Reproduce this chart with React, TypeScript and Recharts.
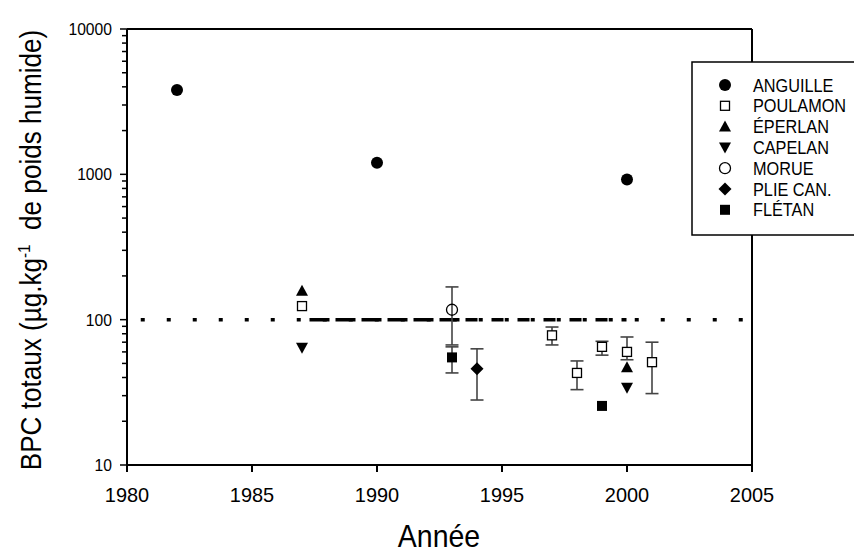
import React from "react";
import {
  ScatterChart,
  Scatter,
  XAxis,
  YAxis,
  ErrorBar,
  ReferenceLine,
} from "recharts";

// values (log scale, µg/kg)
const anguilleYears = [1982, 1990, 2000];
const anguilleValues = [3800, 1200, 920];

const poulamonYears = [1987, 1997, 1998, 1999, 2000, 2001];
const poulamonValues = [124, 78, 43, 65, 60, 51];
const poulamonLow = [null, 67, 33, 57, 53, 31];
const poulamonHigh = [null, 89, 52, 71, 76, 70];

const eperlanYears = [1987, 2000];
const eperlanValues = [158, 47];

const capelanYears = [1987, 2000];
const capelanValues = [64, 34];

const morueYears = [1993];
const morueValues = [117];
const morueLow = [67];
const morueHigh = [168];

const plieYears = [1994];
const plieValues = [46];
const plieLow = [28];
const plieHigh = [63];

const fletanYears = [1993, 1999];
const fletanValues = [55, 25.5];
const fletanLow = [43, null];
const fletanHigh = [65, null];

const xTicks = [1980, 1985, 1990, 1995, 2000, 2005];
const majorYTicks = [10, 100, 1000, 10000];
const yTicks = [
  10, 20, 30, 40, 50, 60, 70, 80, 90,
  100, 200, 300, 400, 500, 600, 700, 800, 900,
  1000, 2000, 3000, 4000, 5000, 6000, 7000, 8000, 9000,
  10000,
];
const limitValue = 100;

const FONT = "Arial, 'Liberation Sans', sans-serif";

// dash pattern of the overlaid guideline: long dashes, then dash-dot, then dot pairs
const guideDash = [
  ...Array(6).fill("20 6"),
  ...Array(6).fill("12 14"),
  "5 21",
].join(" ");

type Kind = "dot" | "openSquare" | "triUp" | "triDown" | "openCircle" | "diamond" | "square";

function toPoints(
  years: number[],
  values: number[],
  low?: (number | null)[],
  high?: (number | null)[]
) {
  return years.map((x, i) => {
    const y = values[i];
    const lo = low ? low[i] : null;
    const hi = high ? high[i] : null;
    return {
      x,
      y,
      err: lo != null && hi != null ? [y - lo, hi - y] : undefined,
    };
  });
}

const series: { name: string; kind: Kind; data: any[] }[] = [
  { name: "ANGUILLE", kind: "dot", data: toPoints(anguilleYears, anguilleValues) },
  { name: "POULAMON", kind: "openSquare", data: toPoints(poulamonYears, poulamonValues, poulamonLow, poulamonHigh) },
  { name: "ÉPERLAN", kind: "triUp", data: toPoints(eperlanYears, eperlanValues) },
  { name: "CAPELAN", kind: "triDown", data: toPoints(capelanYears, capelanValues) },
  { name: "MORUE", kind: "openCircle", data: toPoints(morueYears, morueValues, morueLow, morueHigh) },
  { name: "PLIE CAN.", kind: "diamond", data: toPoints(plieYears, plieValues, plieLow, plieHigh) },
  { name: "FLÉTAN", kind: "square", data: toPoints(fletanYears, fletanValues, fletanLow, fletanHigh) },
];

function Marker({ kind, cx, cy }: { kind: Kind; cx: number; cy: number }) {
  switch (kind) {
    case "dot":
      return <circle cx={cx} cy={cy} r={6} fill="#000" />;
    case "openSquare":
      return (
        <rect x={cx - 4.5} y={cy - 4.5} width={9} height={9} fill="#fff" stroke="#000" strokeWidth={1.3} />
      );
    case "triUp":
      return <polygon points={`${cx},${cy - 6} ${cx + 6},${cy + 5} ${cx - 6},${cy + 5}`} fill="#000" />;
    case "triDown":
      return <polygon points={`${cx},${cy + 6} ${cx + 6},${cy - 5} ${cx - 6},${cy - 5}`} fill="#000" />;
    case "openCircle":
      return <circle cx={cx} cy={cy} r={5.5} fill="none" stroke="#000" strokeWidth={1.3} />;
    case "diamond":
      return (
        <polygon
          points={`${cx},${cy - 6.5} ${cx + 6.5},${cy} ${cx},${cy + 6.5} ${cx - 6.5},${cy}`}
          fill="#000"
        />
      );
    case "square":
      return <rect x={cx - 5} y={cy - 5} width={10} height={10} fill="#000" />;
  }
  return null;
}

// the source figure uses a slightly condensed face, so texts get squeezed horizontally
function Condensed({ x, y, size, squeeze, anchor, children }: any) {
  return (
    <text
      transform={`translate(${x},${y}) scale(${squeeze},1)`}
      textAnchor={anchor || "start"}
      fontSize={size}
      fontFamily={FONT}
      fill="#000"
    >
      {children}
    </text>
  );
}

function YTick(props: any) {
  const { x, y, payload } = props;
  const major = majorYTicks.includes(payload.value);
  return (
    <g>
      <line x1={x - (major ? 7 : 5)} x2={x} y1={y} y2={y} stroke="#000" strokeWidth={1.5} />
      {major && (
        <Condensed x={x - 15} y={y + 6} size={16.5} squeeze={0.95} anchor="end">
          {payload.value}
        </Condensed>
      )}
    </g>
  );
}

function XTick(props: any) {
  const { x, y, payload } = props;
  return (
    <Condensed x={x} y={y + 30} size={21} squeeze={0.95} anchor="middle">
      {payload.value}
    </Condensed>
  );
}

export default function App() {
  return (
    <div
      style={{
        position: "absolute",
        left: 0,
        top: 0,
        width: 854,
        height: 552,
        overflow: "hidden",
        background: "#fff",
        fontFamily: FONT,
      }}
    >
      <ScatterChart width={854} height={552} margin={{ top: 29, right: 102, left: 0, bottom: 0 }}>
        <XAxis
          type="number"
          dataKey="x"
          domain={[1980, 2005]}
          ticks={xTicks}
          interval={0}
          height={87}
          tickSize={7}
          tickMargin={0}
          axisLine={{ stroke: "#000", strokeWidth: 2 }}
          tickLine={{ stroke: "#000", strokeWidth: 2 }}
          tick={<XTick />}
        />
        <YAxis
          type="number"
          dataKey="y"
          scale="log"
          domain={[10, 10000]}
          allowDataOverflow
          ticks={yTicks}
          interval={0}
          width={127}
          tickSize={0}
          tickMargin={0}
          axisLine={{ stroke: "#000", strokeWidth: 2 }}
          tickLine={false}
          tick={<YTick />}
        />
        {/* frame */}
        <ReferenceLine y={10000} stroke="#000" strokeWidth={2} />
        <ReferenceLine x={2005} stroke="#000" strokeWidth={2} />
        {/* 100 µg/kg guideline: dotted line plus an overlaid dashed stretch */}
        <ReferenceLine
          segment={[{ x: 1980.55, y: limitValue }, { x: 2005, y: limitValue }]}
          stroke="#000"
          strokeWidth={3.5}
          strokeDasharray="4 22"
        />
        <ReferenceLine
          segment={[{ x: 1987.3, y: limitValue }, { x: 2000.8, y: limitValue }]}
          stroke="#000"
          strokeWidth={3.5}
          strokeDasharray={guideDash}
        />
        {series.map((s) => (
          <Scatter
            key={s.name}
            name={s.name}
            data={s.data}
            isAnimationActive={false}
            shape={(p: any) => <Marker kind={s.kind} cx={p.cx} cy={p.cy} />}
          >
            <ErrorBar dataKey="err" direction="y" width={6.5} stroke="#444" strokeWidth={1.6} />
          </Scatter>
        ))}
      </ScatterChart>

      <svg
        width={854}
        height={552}
        style={{ position: "absolute", left: 0, top: 0, pointerEvents: "none" }}
      >
        <text
          transform="translate(41,250) rotate(-90) scale(0.9,1)"
          textAnchor="middle"
          fontSize={29}
          fontFamily={FONT}
          fill="#000"
          style={{ whiteSpace: "pre" }}
        >
          BPC totaux (µg.kg
          <tspan dy={-11} fontSize={17}>-1</tspan>
          <tspan dy={11}>  de poids humide)</tspan>
        </text>
        <Condensed x={439} y={547} size={32} squeeze={0.89} anchor="middle">
          Année
        </Condensed>

        <g>
          <rect x={692} y={62} width={175} height={173} fill="#fff" stroke="#000" strokeWidth={1.5} />
          {series.map((s, i) => {
            const cy = 85 + i * 20.8;
            return (
              <g key={s.name}>
                <Marker kind={s.kind} cx={725} cy={cy} />
                <Condensed x={753} y={cy + 6.5} size={18.5} squeeze={0.88}>
                  {s.name}
                </Condensed>
              </g>
            );
          })}
        </g>
      </svg>
    </div>
  );
}
